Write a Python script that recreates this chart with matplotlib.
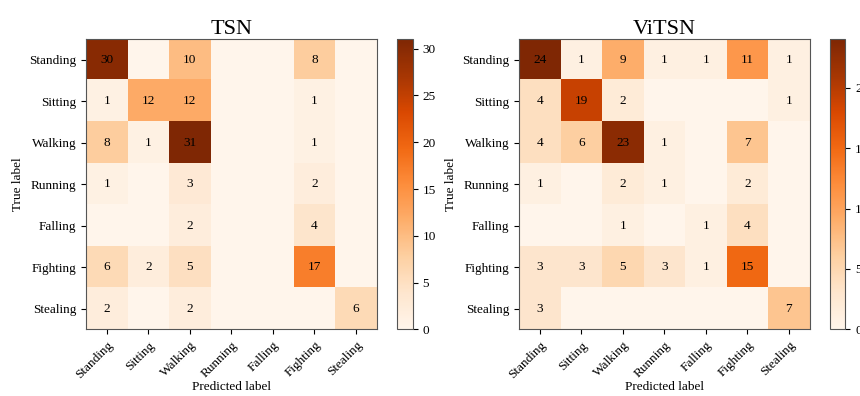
import numpy as np
import matplotlib
matplotlib.use('Agg')
import matplotlib.pyplot as plt

plt.rcParams['font.family'] = ['Liberation Serif', 'DejaVu Serif']

classes = ['Standing', 'Sitting', 'Walking', 'Running', 'Falling', 'Fighting', 'Stealing']

cm_tsn = np.array([
    [30, 0, 10, 0, 0, 8, 0],
    [1, 12, 12, 0, 0, 1, 0],
    [8, 1, 31, 0, 0, 1, 0],
    [1, 0, 3, 0, 0, 2, 0],
    [0, 0, 2, 0, 0, 4, 0],
    [6, 2, 5, 0, 0, 17, 0],
    [2, 0, 2, 0, 0, 0, 6],
])

cm_vitsn = np.array([
    [24, 1, 9, 1, 1, 11, 1],
    [4, 19, 2, 0, 0, 0, 1],
    [4, 6, 23, 1, 0, 7, 0],
    [1, 0, 2, 1, 0, 2, 0],
    [0, 0, 1, 0, 1, 4, 0],
    [3, 3, 5, 3, 1, 15, 0],
    [3, 0, 0, 0, 0, 0, 7],
])

fig = plt.figure(figsize=(8.6, 3.96), dpi=100)


def draw_cm(cm, title, ax_rect, cb_rect):
    ax = fig.add_axes(ax_rect)
    cax = fig.add_axes(cb_rect)
    im = ax.imshow(cm, cmap='Oranges', interpolation='nearest', aspect='auto')
    cb = fig.colorbar(im, cax=cax)
    cb.set_ticks(np.arange(0, cm.max() + 1, 5))
    cb.ax.tick_params(labelsize=9.5)
    cb.outline.set_edgecolor('#555555')
    n = len(classes)
    for i in range(n):
        for j in range(n):
            if cm[i, j] > 0:
                ax.text(j, i, str(cm[i, j]), ha='center', va='center',
                        fontsize=9.5, color='black')
    ax.set_xticks(range(n))
    ax.set_yticks(range(n))
    ax.set_xticklabels(classes, rotation=45, ha='right', rotation_mode='anchor')
    ax.set_yticklabels(classes)
    ax.tick_params(labelsize=9.5)
    ax.set_xlabel('Predicted label', fontsize=9.5, labelpad=0)
    ax.set_ylabel('True label', fontsize=9.5)
    ax.set_title(title, fontsize=16, pad=3)
    for s in ax.spines.values():
        s.set_edgecolor('#555555')


draw_cm(cm_tsn, 'TSN', [0.100, 0.168, 0.338, 0.733], [0.4616, 0.168, 0.0186, 0.733])
draw_cm(cm_vitsn, 'ViTSN', [0.6035, 0.168, 0.338, 0.733], [0.9651, 0.168, 0.0180, 0.733])

fig.savefig('out.png', dpi=100)
